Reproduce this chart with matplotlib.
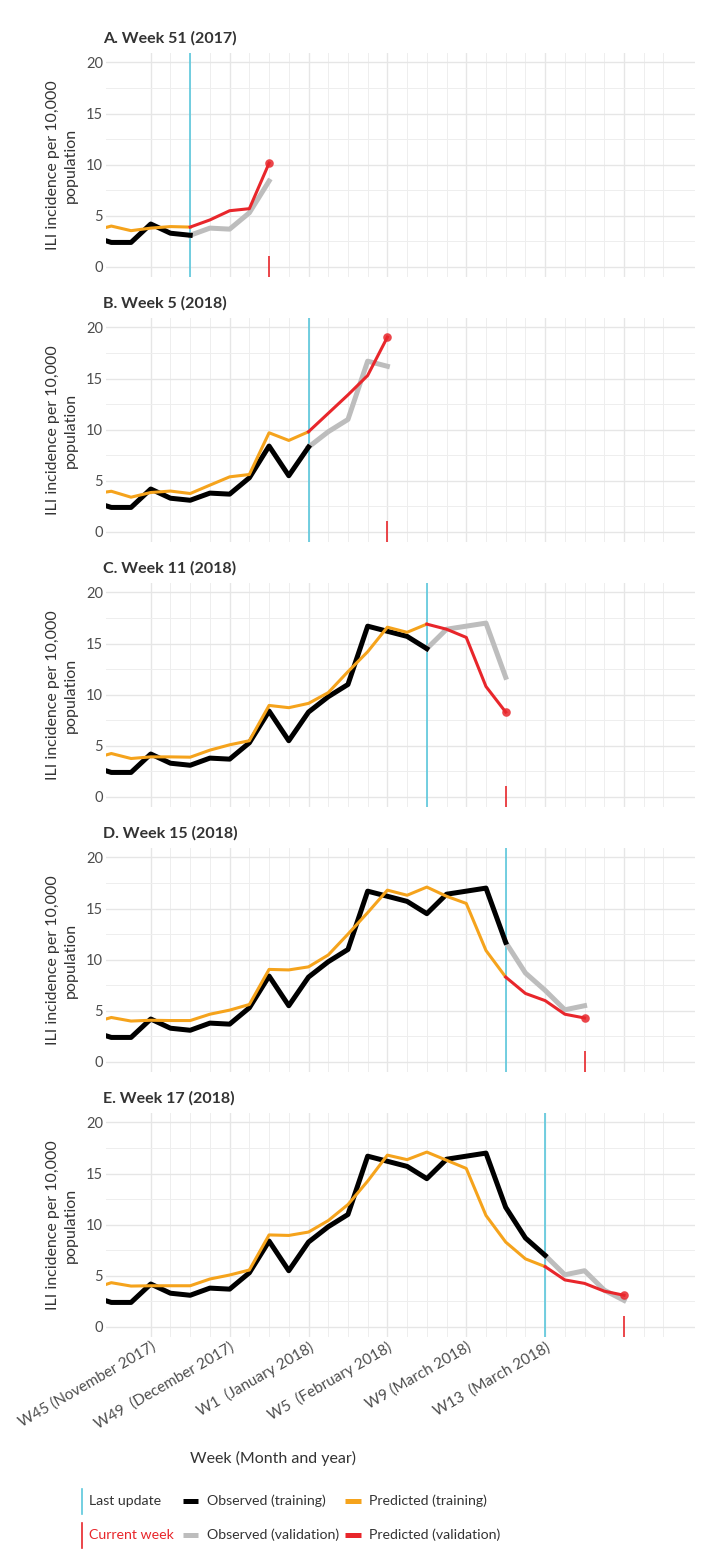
"""ILI incidence nowcast panels: observed vs predicted, weeks 42 (2017) to 17 (2018)

"""

import numpy as np
import matplotlib.pyplot as plt

plt.rcParams['font.family'] = ['Lato', 'DejaVu Sans']

# week index: W42..W52 of 2017 -> 42..52, W1..W17 of 2018 -> 53..69
weeks = list(range(42, 70))
observed = [3.0, 2.4, 2.4, 4.2, 3.3, 3.1, 3.8, 3.7, 5.3, 8.4, 5.5,
            8.3, 9.8, 11.0, 16.7, 16.2, 15.7, 14.5, 16.4, 16.7, 17.0,
            11.7, 8.7, 7.0, 5.1, 5.5, 3.6, 2.6]

titles = ['A. Week 51 (2017)', 'B. Week 5 (2018)', 'C. Week 11 (2018)',
          'D. Week 15 (2018)', 'E. Week 17 (2018)']
last_update = [47, 53, 59, 63, 65]
current_week = [51, 57, 63, 67, 69]

# predicted series from W42 up to the current week of each panel
pred_a = [3.5, 4.0, 3.55, 3.8, 3.95, 3.9, 4.6, 5.5, 5.7, 10.15]
pred_b = [3.7, 3.98, 3.4, 3.86, 4.0, 3.76, 4.58, 5.39, 5.62, 9.7, 8.95,
          9.8, 11.6, 13.4, 15.3, 19.05]
pred_c = [3.7, 4.25, 3.76, 3.92, 3.92, 3.89, 4.58, 5.1, 5.5, 8.95, 8.73,
          9.15, 10.2, 12.25, 14.2, 16.6, 16.1, 16.9, 16.4, 15.6, 10.8, 8.3]
pred_d = [3.8, 4.35, 4.0, 4.08, 4.05, 4.05, 4.67, 5.07, 5.62, 9.05, 9.0,
          9.3, 10.46, 12.5, 14.6, 16.8, 16.3, 17.1, 16.2, 15.5, 10.9, 8.3,
          6.7, 6.0, 4.67, 4.3]
pred_e = [3.7, 4.33, 4.0, 4.03, 4.03, 4.03, 4.69, 5.08, 5.57, 9.0, 8.95,
          9.28, 10.4, 11.97, 14.26, 16.8, 16.36, 17.1, 16.3, 15.5, 10.9, 8.3,
          6.66, 5.9, 4.6, 4.26, 3.5, 3.1]
predicted = [pred_a, pred_b, pred_c, pred_d, pred_e]

tick_weeks = [45, 49, 53, 57, 61, 65]
tick_labels = ['W45 (November 2017)', 'W49  (December 2017)', 'W1  (January 2018)',
               'W5  (February 2018)', 'W9 (March 2018)', 'W13  (March 2018)']

c_obs = '#000000'
c_obs_val = '#bdbdbd'
c_pred = '#f5a31c'
c_pred_val = '#e8262b'
c_update = '#5bc7dc'
c_text = '#333333'
c_tick = '#4d4d4d'

W, H = 703, 1562
fig = plt.figure(figsize=(W / 100, H / 100), dpi=100)

tops = [53, 318, 583, 848, 1113]
for i, top in enumerate(tops):
    ax = fig.add_axes([106 / W, 1 - (top + 224) / H, 589 / W, 224 / H])
    x = np.array(weeks)
    obs = np.array(observed)
    pred = np.array(predicted[i])
    xp = x[:len(pred)]
    lu, cw = last_update[i], current_week[i]

    m_train = x <= lu
    m_val = (x >= lu) & (x <= cw)
    ax.plot(x[m_val], obs[m_val], color=c_obs_val, lw=3.6, zorder=3)
    ax.plot(x[m_train], obs[m_train], color=c_obs, lw=3.6, zorder=3)
    ax.plot(xp[xp <= lu], pred[xp <= lu], color=c_pred, lw=2.2, zorder=4)
    ax.plot(xp[xp >= lu], pred[xp >= lu], color=c_pred_val, lw=2.2, zorder=4)
    ax.scatter([cw], [pred[-1]], s=38, color=c_pred_val, alpha=0.85, lw=0, zorder=5)

    ax.axvline(lu, color=c_update, lw=1.2, zorder=2)
    ax.vlines(cw, -1, 1.05, color=c_pred_val, lw=1.2, zorder=2)

    ax.set_xlim(42.73, 72.6)
    ax.set_ylim(-0.98, 20.92)
    ax.set_xticks(list(range(45, 70, 4)))
    ax.set_xticks([w for w in range(46, 72) if (w - 45) % 4], minor=True)
    ax.set_yticks([0, 5, 10, 15, 20])
    ax.set_yticks([2.5, 7.5, 12.5, 17.5], minor=True)
    ax.grid(which='major', color='#e6e6e6', lw=1.0)
    ax.grid(which='minor', color='#eeeeee', lw=0.7)
    ax.set_axisbelow(True)
    for s in ax.spines.values():
        s.set_visible(False)
    ax.tick_params(which='both', length=0, labelsize=10.5, labelcolor=c_tick, pad=2)

    if i == len(tops) - 1:
        ax.set_xticks(tick_weeks)
        ax.set_xticklabels(tick_labels, rotation=30, ha='right', va='top',
                           rotation_mode='anchor', fontsize=11)
    else:
        ax.set_xticklabels([])

    ax.set_ylabel('ILI incidence per 10,000\npopulation', fontsize=11.5,
                  color=c_text, linespacing=1.3)
    ax.yaxis.set_label_coords(-0.048, 0.5)
    ax.text(-0.005, 1 + 15 / 224, titles[i], transform=ax.transAxes,
            fontsize=11.5, fontweight='bold', color=c_text, ha='left', va='center')

fig.text(273 / W, 1 - 1458 / H, 'Week (Month and year)', fontsize=11.5,
         color=c_text, ha='center', va='center')

# legend drawn in pixel space
lax = fig.add_axes([0, 0, 1, 1])
lax.set_xlim(0, W)
lax.set_ylim(H, 0)
lax.axis('off')
fs_leg = 10.2
lax.plot([82, 82], [1489, 1514], color=c_update, lw=1.2)
lax.plot([82, 82], [1523, 1548], color=c_pred_val, lw=1.2)
lax.text(89, 1501, 'Last update', fontsize=fs_leg, color=c_text, va='center')
lax.text(89, 1535, 'Current week', fontsize=fs_leg, color=c_pred_val, va='center')
lax.plot([183, 198], [1501, 1501], color=c_obs, lw=3.6, solid_capstyle='butt')
lax.plot([183, 198], [1535, 1535], color=c_obs_val, lw=3.6, solid_capstyle='butt')
lax.text(207, 1501, 'Observed (training)', fontsize=fs_leg, color=c_text, va='center')
lax.text(207, 1535, 'Observed (validation)', fontsize=fs_leg, color=c_text, va='center')
lax.plot([345, 361], [1501, 1501], color=c_pred, lw=3.6, solid_capstyle='butt')
lax.plot([345, 361], [1535, 1535], color=c_pred_val, lw=3.6, solid_capstyle='butt')
lax.text(369, 1501, 'Predicted (training)', fontsize=fs_leg, color=c_text, va='center')
lax.text(369, 1535, 'Predicted (validation)', fontsize=fs_leg, color=c_text, va='center')

fig.savefig('out.png', dpi=100)
